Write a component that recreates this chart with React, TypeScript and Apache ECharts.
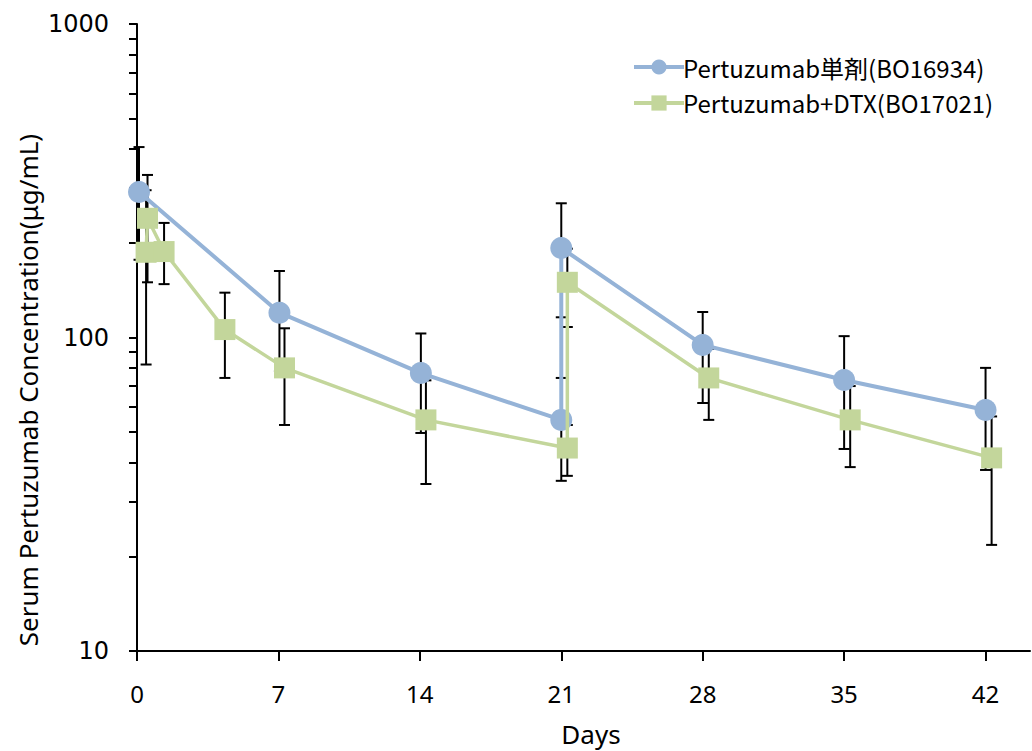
import React, { useEffect, useRef } from "react";
import * as echarts from "echarts";

const xTickValues = [0, 7, 14, 21, 28, 35, 42];
const yLabelValues = [10, 100, 1000];
const yTickValues = [10, 20, 30, 40, 50, 60, 70, 80, 90, 100, 200, 300, 400, 500, 600, 700, 800, 900, 1000];

const blueName = "Pertuzumab単剤(BO16934)";
const blueDays = [0.1, 7.05, 14.05, 21.0, 21.0, 28.0, 35.0, 42.0];
const blueValues = [291, 120, 77, 54.6, 193, 94.7, 73.2, 58.7];
const blueUpper = [405, 163, 103, 74.3, 268, 120.6, 101, 80];
const blueLower = [177, 78, 49.6, 34.9, 116, 61.8, 44.1, 37.8];

const greenName = "Pertuzumab+DTX(BO17021)";
const greenDays = [0.45, 0.52, 1.34, 4.35, 7.3, 14.3, 21.3, 21.3, 28.3, 35.3, 42.3];
const greenValues = [187, 240, 188, 106, 80, 54.6, 44.4, 150, 74.3, 54.6, 41.3];
const greenUpper = [295, 330, 232, 139, 107, 73, 52.6, 192, 92, 70, 56];
const greenLower = [82, 150, 148, 74.3, 52.6, 34.1, 36.2, 108, 54.6, 38.6, 21.8];

const BLUE = "#95B3D7";
const GREEN = "#C3D69B";

function errorSeries(name: string, days: number[], lower: number[], upper: number[]) {
  return {
    type: "custom",
    name,
    silent: true,
    z: 1,
    renderItem: (params: any, api: any) => {
      const lo = api.coord([api.value(0), api.value(1)]);
      const hi = api.coord([api.value(0), api.value(2)]);
      const w = 5.5;
      const st = { stroke: "#000", lineWidth: 2 };
      return {
        type: "group",
        children: [
          { type: "line", shape: { x1: lo[0], y1: lo[1], x2: hi[0], y2: hi[1] }, style: st },
          { type: "line", shape: { x1: lo[0] - w, y1: lo[1], x2: lo[0] + w, y2: lo[1] }, style: st },
          { type: "line", shape: { x1: hi[0] - w, y1: hi[1], x2: hi[0] + w, y2: hi[1] }, style: st },
        ],
      };
    },
    encode: { x: 0, y: [1, 2] },
    data: days.map((d, i) => [d, lower[i], upper[i]]),
  };
}

export default function App() {
  const ref = useRef<HTMLDivElement>(null);
  useEffect(() => {
    if (!ref.current) return;
    const chart = echarts.init(ref.current, null, { renderer: "svg" });
    chart.setOption({
      animation: false,
      backgroundColor: "#fff",
      grid: { left: 137, right: 2, top: 24, bottom: 100, containLabel: false, outerBoundsMode: "none" },
      legend: {
        data: [blueName, greenName],
        orient: "vertical",
        left: 627,
        top: 50,
        itemWidth: 50,
        itemHeight: 19,
        itemGap: 12,
        lineStyle: { width: 4 },
        textStyle: { fontFamily: "Noto Sans CJK JP", fontSize: 24, color: "#000", padding: [0, 0, 0, -6] },
      },
      xAxis: {
        type: "value",
        min: 0,
        max: 44.2,
        axisLine: { show: true, onZero: false, lineStyle: { color: "#000", width: 2 } },
        axisTick: { show: true, customValues: xTickValues, length: 10, lineStyle: { color: "#000", width: 2 } },
        axisLabel: {
          customValues: xTickValues,
          margin: 30,
          fontFamily: "Noto Sans",
          fontSize: 24,
          color: "#000",
        },
        splitLine: { show: false },
      },
      yAxis: {
        type: "log",
        logBase: 10,
        min: 10,
        max: 1000,
        axisLine: { show: true, lineStyle: { color: "#000", width: 2 } },
        axisTick: { show: true, customValues: yTickValues, length: 8, lineStyle: { color: "#000", width: 2 } },
        axisLabel: {
          customValues: yLabelValues,
          margin: 28,
          fontFamily: "DejaVu Sans",
          fontSize: 24,
          color: "#000",
          formatter: (v: number) => String(v),
        },
        splitLine: { show: false },
        minorTick: { show: false },
      },
      graphic: [
        {
          type: "text",
          x: 28,
          y: 390,
          rotation: Math.PI / 2,
          style: {
            text: "Serum Pertuzumab Concentration(μg/mL)",
            fontFamily: "Noto Sans",
            fontSize: 26,
            fill: "#000",
            align: "center",
            verticalAlign: "middle",
          },
        },
        {
          type: "text",
          x: 591,
          y: 734,
          style: {
            text: "Days",
            fontFamily: "Noto Sans",
            fontSize: 26,
            fill: "#000",
            align: "center",
            verticalAlign: "middle",
          },
        },
      ],
      series: [
        errorSeries("errBlue", blueDays, blueLower, blueUpper),
        errorSeries("errGreen", greenDays, greenLower, greenUpper),
        {
          type: "line",
          name: blueName,
          data: blueDays.map((d, i) => [d, blueValues[i]]),
          symbol: "circle",
          symbolSize: 22,
          lineStyle: { color: BLUE, width: 4 },
          itemStyle: { color: BLUE },
          z: 3,
        },
        {
          type: "line",
          name: greenName,
          data: greenDays.map((d, i) => [d, greenValues[i]]),
          symbol: "rect",
          symbolSize: 21,
          lineStyle: { color: GREEN, width: 3.5 },
          itemStyle: { color: GREEN },
          z: 4,
        },
      ],
    });
    return () => chart.dispose();
  }, []);
  return <div ref={ref} style={{ width: 1032, height: 751, position: "fixed", left: 0, top: 0 }} />;
}
